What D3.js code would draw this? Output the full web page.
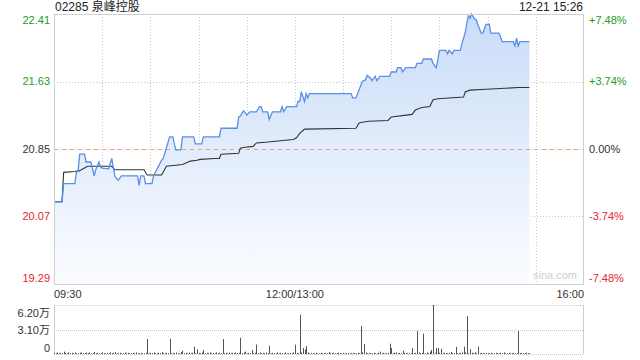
<!DOCTYPE html>
<html>
<head>
<meta charset="utf-8">
<script src="https://cdn.jsdelivr.net/npm/d3@7"></script>
<style>
  body { margin: 0; background: #fff; }
  svg { display: block; font-family: "Liberation Sans", Arial, "Noto Sans CJK SC", sans-serif; }
</style>
</head>
<body>
<div id="chart"></div>
<script>
// trading minutes since 09:30 (0..330, lunch break removed)
const priceMin = [0, 5, 6, 13, 14, 15, 16, 19, 20, 23, 25, 26, 28, 29, 30, 34, 36, 37, 38, 40,
  42, 52, 53, 54, 56, 57, 61, 62, 67, 68, 72, 74, 75, 76, 79, 80, 87, 88, 92, 93,
  103, 104, 114, 115, 116, 118, 119, 120, 122, 126, 128, 129, 130, 133, 134, 136, 141, 142, 143, 145,
  151, 152, 153, 154, 156, 157, 158, 159, 185, 186, 188, 189, 192, 194, 195, 197, 198, 200, 201, 203,
  209, 210, 213, 214, 216, 217, 219, 225, 226, 229, 230, 235, 236, 238, 239, 240, 244, 245, 246, 248,
  249, 253, 254, 256, 257, 258, 259, 260, 262, 263, 264, 266, 267, 268, 269, 271, 272, 277, 278, 279,
  286, 287, 288, 289, 290, 296];
const priceVal = [20.24, 20.24, 20.45, 20.45, 20.59, 20.59, 20.79, 20.79, 20.70, 20.70, 20.54, 20.61, 20.70, 20.64, 20.63, 20.62, 20.74, 20.63, 20.53, 20.49,
  20.54, 20.54, 20.43, 20.54, 20.54, 20.45, 20.45, 20.54, 20.72, 20.74, 20.99, 20.99, 20.90, 20.84, 20.84, 20.99, 20.99, 20.91, 20.91, 20.99,
  20.99, 21.09, 21.09, 21.22, 21.23, 21.29, 21.27, 21.24, 21.28, 21.28, 21.34, 21.34, 21.28, 21.28, 21.19, 21.28, 21.28, 21.34, 21.28, 21.34,
  21.34, 21.40, 21.40, 21.51, 21.40, 21.49, 21.44, 21.49, 21.49, 21.44, 21.44, 21.49, 21.63, 21.65, 21.70, 21.67, 21.64, 21.69, 21.64, 21.69,
  21.69, 21.74, 21.74, 21.79, 21.79, 21.74, 21.79, 21.79, 21.84, 21.84, 21.89, 21.89, 21.84, 21.79, 21.88, 21.99, 21.99, 21.95, 21.99, 21.95,
  21.99, 21.99, 22.07, 22.19, 22.30, 22.39, 22.36, 22.41, 22.35, 22.34, 22.28, 22.19, 22.19, 22.24, 22.29, 22.29, 22.19, 22.19, 22.15, 22.09,
  22.09, 22.04, 22.13, 22.04, 22.09, 22.09];

const avgMin = [0, 5, 6, 13, 16, 19, 21, 36, 38, 56, 58, 67, 70, 80, 85, 89, 91, 100, 103, 104,
  115, 116, 119, 124, 126, 133, 149, 151, 153, 156, 188, 190, 192, 196, 208, 210, 223, 225, 229, 234,
  236, 239, 255, 256, 259, 269, 289, 296];
const avgVal = [20.24, 20.24, 20.58, 20.59, 20.60, 20.63, 20.65, 20.65, 20.61, 20.61, 20.55, 20.55, 20.65, 20.67, 20.71, 20.72, 20.73, 20.74, 20.74, 20.79,
  20.80, 20.86, 20.87, 20.88, 20.92, 20.93, 20.96, 20.98, 21.03, 21.08, 21.09, 21.15, 21.16, 21.17, 21.18, 21.22, 21.25, 21.30, 21.33, 21.34,
  21.42, 21.43, 21.45, 21.51, 21.53, 21.54, 21.56, 21.56];

// volume per minute, in 万 shares (index = trading minute)
const volume = [
  0.15, 0.1, 0.2, 0.1, 0.15, 0.1, 0.3, 0.15, 0.1, 0.2,
  0.1, 0.15, 0.1, 0.2, 0.1, 0.1, 0.15, 0.2, 0.1, 0.1,
  0.15, 0.1, 0.2, 0.1, 0.1, 0.25, 0.1, 0.15, 0.1, 0.1,
  0.2, 0.1, 0.1, 0.15, 0.1, 0.2, 0.1, 0.15, 0.25, 0.1,
  0.1, 0.15, 0.1, 0.1, 0.2, 0.1, 0.15, 0.1, 0.1, 0.15,
  0.1, 0.2, 0.1, 0.1, 0.15, 0.1, 0.1, 0.15, 1.9, 0.1,
  0.15, 0.1, 0.2, 0.1, 0.1, 0.15, 0.1, 0.25, 0.1, 0.1,
  0.15, 0.1, 1.9, 0.1, 0.15, 0.1, 0.2, 0.1, 0.1, 0.25,
  0.4, 0.1, 0.15, 0.1, 0.2, 0.1, 0.15, 0.93, 0.1, 0.6,
  0.15, 0.1, 0.2, 0.5, 0.1, 0.15, 0.1, 0.2, 0.1, 0.15,
  0.1, 0.2, 0.1, 0.15, 0.1, 1.9, 0.1, 0.15, 0.1, 0.2,
  0.1, 0.15, 0.1, 0.2, 0.1, 0.15, 2.07, 0.1, 0.2, 0.3,
  0.1, 0.15, 0.1, 0.5, 0.1, 0.15, 1.2, 0.1, 0.2, 0.1,
  0.15, 0.1, 0.2, 0.1, 1.05, 0.1, 0.15, 0.1, 0.1, 0.2,
  0.1, 0.15, 0.1, 0.1, 0.2, 0.1, 0.1, 0.15, 0.1, 0.2,
  1.18, 0.15, 0.1, 4.97, 0.2, 0.76, 0.6, 1.0, 0.2, 0.1,
  0.15, 0.1, 0.1, 0.15, 0.1, 0.1, 0.15, 0.1, 0.1, 0.15,
  0.1, 0.25, 0.1, 0.1, 0.15, 0.1, 0.1, 0.15, 0.1, 0.1,
  0.15, 0.1, 0.1, 0.15, 0.1, 0.1, 0.15, 0.1, 0.1, 0.15,
  0.1, 3.54, 0.2, 1.27, 0.2, 0.1, 0.15, 0.1, 0.1, 0.15,
  0.1, 0.1, 0.15, 0.3, 0.1, 0.15, 0.1, 0.1, 0.15, 1.3,
  0.76, 0.1, 0.15, 0.2, 0.1, 0.15, 0.1, 0.4, 0.15, 0.1,
  0.1, 0.15, 0.1, 0.76, 0.1, 0.15, 2.9, 0.2, 0.1, 0.15,
  2.57, 0.1, 0.2, 0.1, 0.3, 0.5, 6.2, 0.1, 0.76, 0.76,
  0.15, 0.65, 0.1, 0.15, 0.1, 0.1, 0.15, 0.25, 0.1, 0.1,
  0.9, 0.1, 0.15, 0.1, 0.2, 0.9, 0.2, 4.8, 0.1, 0.6,
  0.15, 0.1, 0.2, 0.1, 0.93, 0.1, 0.15, 0.1, 0.1, 0.15,
  0.1, 0.1, 0.15, 0.1, 0.1, 0.15, 0.1, 0.1, 0.15, 0.1,
  0.2, 0.1, 0.1, 0.15, 0.1, 0.1, 0.15, 0.1, 0.1, 2.9,
  0.1, 0.15, 0.1, 0.1, 0.15, 0.1, 0.1
];

const priceTicks = [22.41, 21.63, 20.85, 20.07, 19.29];
const pctTicks = ["+7.48%", "+3.74%", "0.00%", "-3.74%", "-7.48%"];
const volTicks = [6.2, 3.1, 0];
const volTickLabels = ["6.20万", "3.10万", "0"];
const timeLabels = ["09:30", "12:00/13:00", "16:00"];
const prevClose = 20.85;
const title = "02285 泉峰控股";
const stamp = "12-21 15:26";

const W = 640, H = 360;
const L = 54, R = 584, T = 14, B = 284;
const VT = 305, VB = 354;
const green = "#1a9e1f", red = "#e5262b", ink = "#333";

const svg = d3.select("#chart").append("svg").attr("width", W).attr("height", H);

const x = d3.scaleLinear().domain([0, 330]).range([L, R]);
const y = d3.scaleLinear().domain([19.29, 22.41]).range([B, T]);
const yv = d3.scaleLinear().domain([0, 6.2]).range([VB, VT]);

const grad = svg.append("defs").append("linearGradient")
  .attr("id", "fill").attr("gradientUnits", "userSpaceOnUse")
  .attr("x1", 0).attr("y1", T).attr("x2", 0).attr("y2", B);
grad.append("stop").attr("offset", 0).attr("stop-color", "#c9dcf8");
grad.append("stop").attr("offset", 1).attr("stop-color", "#fbfcff");

// grid
const grid = svg.append("g").attr("stroke", "#c8c8c8").attr("stroke-dasharray", "1,2");
grid.selectAll(".vg").data(d3.range(30, 330, 30)).enter().append("line")
  .attr("x1", d => Math.round(x(d)) + 0.5).attr("x2", d => Math.round(x(d)) + 0.5)
  .attr("y1", T).attr("y2", B);
grid.selectAll(".hg").data([21.63, 20.85, 20.07]).enter().append("line")
  .attr("x1", L).attr("x2", R)
  .attr("y1", d => Math.round(y(d)) + 0.5).attr("y2", d => Math.round(y(d)) + 0.5);

const pts = priceMin.map((m, i) => [m, priceVal[i]]);
svg.append("path").datum(pts)
  .attr("fill", "url(#fill)")
  .attr("d", d3.area().x(d => x(d[0])).y0(B).y1(d => y(d[1])));

svg.append("line")
  .attr("x1", L).attr("x2", R)
  .attr("y1", Math.round(y(prevClose)) + 0.5).attr("y2", Math.round(y(prevClose)) + 0.5)
  .attr("stroke", "#f0a070").attr("stroke-dasharray", "4,4");

svg.append("path").datum(avgMin.map((m, i) => [m, avgVal[i]]))
  .attr("fill", "none").attr("stroke", "#333").attr("stroke-width", 1.1)
  .attr("d", d3.line().x(d => x(d[0])).y(d => y(d[1])));

svg.append("path").datum(pts)
  .attr("fill", "none").attr("stroke", "#5a8ee8").attr("stroke-width", 1.3)
  .attr("d", d3.line().x(d => x(d[0])).y(d => y(d[1])));

// frame
svg.append("rect").attr("x", L + 0.5).attr("y", T + 0.5)
  .attr("width", R - L - 1).attr("height", B - T)
  .attr("fill", "none").attr("stroke", "#cfcfcf");

svg.append("text").attr("x", 555).attr("y", B - 5).attr("text-anchor", "middle")
  .attr("font-size", 11).attr("fill", "#d0d0d0").text("sina.com");

// price labels
const tickColor = i => i < 2 ? green : (i === 2 ? ink : red);
const tickDy = i => i === 0 ? 6 : (i === 4 ? -6 : 0);
svg.selectAll(".pl").data(priceTicks).enter().append("text")
  .attr("x", L - 4).attr("y", (d, i) => y(d) + tickDy(i))
  .attr("dy", "0.35em").attr("text-anchor", "end").attr("font-size", 11)
  .attr("fill", (d, i) => tickColor(i)).text(d => d.toFixed(2));
svg.selectAll(".pr").data(priceTicks).enter().append("text")
  .attr("x", R + 5).attr("y", (d, i) => y(d) + tickDy(i))
  .attr("dy", "0.35em").attr("text-anchor", "start").attr("font-size", 11)
  .attr("fill", (d, i) => tickColor(i)).text((d, i) => pctTicks[i]);

// time labels
svg.selectAll(".tl").data([0, 150, 330]).enter().append("text")
  .attr("x", d => x(d)).attr("y", 298)
  .attr("text-anchor", (d, i) => ["start", "middle", "end"][i])
  .attr("font-size", 11).attr("fill", ink).text((d, i) => timeLabels[i]);

svg.append("text").attr("x", L + 1).attr("y", 11).attr("font-size", 12)
  .attr("fill", "#222").text(title);
svg.append("text").attr("x", R - 1).attr("y", 11).attr("text-anchor", "end")
  .attr("font-size", 12).attr("fill", "#222").text(stamp);

// volume panel
const vg = svg.append("g");
vg.selectAll(".vh").data(volTicks).enter().append("line")
  .attr("x1", L).attr("x2", R)
  .attr("y1", d => Math.round(yv(d)) + 0.5).attr("y2", d => Math.round(yv(d)) + 0.5)
  .attr("stroke", "#c8c8c8").attr("stroke-dasharray", "1,1");
vg.selectAll(".vb").data([L + 0.5, R - 0.5]).enter().append("line")
  .attr("x1", d => d).attr("x2", d => d).attr("y1", VT).attr("y2", VB)
  .attr("stroke", "#cfcfcf");
vg.selectAll(".bar").data(volume).enter().append("line")
  .attr("x1", (d, i) => Math.round(x(i)) + 0.5).attr("x2", (d, i) => Math.round(x(i)) + 0.5)
  .attr("y1", yv(0)).attr("y2", d => yv(d))
  .attr("stroke", "#555").attr("stroke-width", 1);
vg.selectAll(".vl").data(volTicks).enter().append("text")
  .attr("x", L - 4).attr("y", (d, i) => yv(d) + [8, 1, -6][i])
  .attr("dy", "0.35em").attr("text-anchor", "end").attr("font-size", 11)
  .attr("fill", ink).text((d, i) => volTickLabels[i]);
</script>
</body>
</html>
